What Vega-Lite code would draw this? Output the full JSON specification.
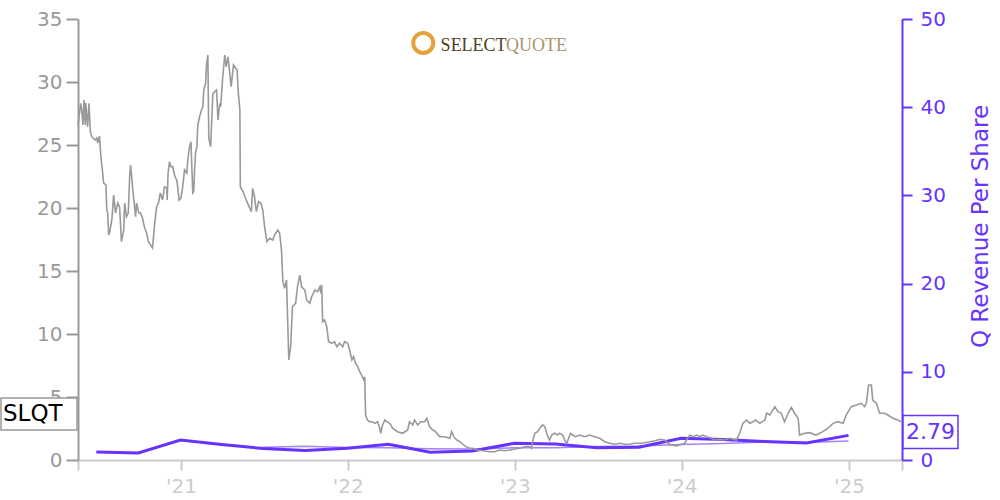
{
  "$schema": "https://vega.github.io/schema/vega-lite/v6.json",
  "width": 824,
  "height": 441,
  "autosize": {"type": "none"},
  "padding": {"left": 78, "top": 19, "right": 98, "bottom": 40},
  "background": "white",
  "config": {"view": {"stroke": null}, "font": "DejaVu Sans"},
  "datasets": {
    "stock": [
      {"date":"2020-05-21","price":26.59},{"date":"2020-05-27","price":28.31},{"date":"2020-05-29","price":27.78},{"date":"2020-06-01","price":26.59},{"date":"2020-06-03","price":28.57},{"date":"2020-06-06","price":26.59},{"date":"2020-06-07","price":28.33},{"date":"2020-06-11","price":26.43},{"date":"2020-06-14","price":28.31},{"date":"2020-06-17","price":26.06},{"date":"2020-06-20","price":25.66},{"date":"2020-06-27","price":25.40},{"date":"2020-07-01","price":25.56},{"date":"2020-07-03","price":25.16},{"date":"2020-07-07","price":25.71},{"date":"2020-07-10","price":24.07},{"date":"2020-07-14","price":22.78},{"date":"2020-07-16","price":21.98},{"date":"2020-07-21","price":21.83},{"date":"2020-07-23","price":19.84},{"date":"2020-07-25","price":19.60},{"date":"2020-07-27","price":17.86},{"date":"2020-07-29","price":18.02},{"date":"2020-08-03","price":19.05},{"date":"2020-08-07","price":21.03},{"date":"2020-08-11","price":19.60},{"date":"2020-08-16","price":20.40},{"date":"2020-08-20","price":20.08},{"date":"2020-08-24","price":17.33},{"date":"2020-08-29","price":18.25},{"date":"2020-08-31","price":20.40},{"date":"2020-09-04","price":19.31},{"date":"2020-09-08","price":19.60},{"date":"2020-09-11","price":22.48},{"date":"2020-09-13","price":23.41},{"date":"2020-09-15","price":22.62},{"date":"2020-09-19","price":21.03},{"date":"2020-09-24","price":19.31},{"date":"2020-09-26","price":20.40},{"date":"2020-10-01","price":19.60},{"date":"2020-10-05","price":19.60},{"date":"2020-10-09","price":19.21},{"date":"2020-10-13","price":18.52},{"date":"2020-10-18","price":18.02},{"date":"2020-10-22","price":17.33},{"date":"2020-10-31","price":16.83},{"date":"2020-11-04","price":18.52},{"date":"2020-11-09","price":20.10},{"date":"2020-11-13","price":20.40},{"date":"2020-11-17","price":21.19},{"date":"2020-11-22","price":20.63},{"date":"2020-11-26","price":21.69},{"date":"2020-12-01","price":21.59},{"date":"2020-12-02","price":20.63},{"date":"2020-12-04","price":22.78},{"date":"2020-12-07","price":23.67},{"date":"2020-12-10","price":23.28},{"date":"2020-12-14","price":23.28},{"date":"2020-12-19","price":22.48},{"date":"2020-12-23","price":22.22},{"date":"2020-12-25","price":21.69},{"date":"2020-12-28","price":20.63},
      {"date":"2021-01-01","price":20.79},{"date":"2021-01-05","price":21.69},{"date":"2021-01-09","price":23.02},{"date":"2021-01-14","price":22.78},{"date":"2021-01-16","price":23.81},{"date":"2021-01-20","price":24.87},{"date":"2021-01-23","price":25.26},{"date":"2021-01-27","price":21.19},{"date":"2021-01-29","price":21.29},{"date":"2021-01-31","price":23.02},{"date":"2021-02-02","price":24.37},{"date":"2021-02-05","price":24.87},{"date":"2021-02-07","price":26.59},{"date":"2021-02-11","price":27.25},{"date":"2021-02-15","price":27.78},{"date":"2021-02-18","price":28.04},{"date":"2021-02-20","price":29.37},{"date":"2021-02-24","price":29.90},{"date":"2021-02-26","price":31.35},{"date":"2021-03-01","price":32.14},{"date":"2021-03-03","price":25.56},{"date":"2021-03-07","price":24.87},{"date":"2021-03-12","price":29.10},{"date":"2021-03-20","price":29.37},{"date":"2021-03-23","price":26.98},{"date":"2021-03-27","price":28.31},{"date":"2021-03-29","price":28.04},{"date":"2021-04-02","price":30.16},{"date":"2021-04-07","price":32.14},{"date":"2021-04-10","price":31.21},{"date":"2021-04-14","price":31.99},{"date":"2021-04-18","price":30.69},{"date":"2021-04-21","price":29.63},{"date":"2021-04-26","price":31.35},{"date":"2021-05-04","price":30.95},{"date":"2021-05-06","price":29.37},{"date":"2021-05-10","price":27.78},{"date":"2021-05-11","price":21.69},{"date":"2021-05-17","price":21.29},{"date":"2021-05-24","price":20.63},{"date":"2021-05-27","price":20.37},{"date":"2021-06-04","price":19.71},{"date":"2021-06-07","price":21.56},{"date":"2021-06-11","price":20.90},{"date":"2021-06-15","price":19.71},{"date":"2021-06-20","price":20.50},{"date":"2021-06-25","price":20.37},{"date":"2021-06-29","price":19.84},{"date":"2021-07-03","price":18.52},{"date":"2021-07-08","price":17.33},{"date":"2021-07-14","price":17.60},{"date":"2021-07-21","price":17.46},{"date":"2021-07-25","price":17.86},{"date":"2021-08-01","price":18.25},{"date":"2021-08-05","price":17.99},{"date":"2021-08-09","price":16.67},{"date":"2021-08-12","price":14.15},{"date":"2021-08-16","price":13.63},{"date":"2021-08-20","price":14.29},{"date":"2021-08-25","price":7.94},{"date":"2021-08-29","price":8.99},{"date":"2021-09-02","price":12.17},{"date":"2021-09-09","price":12.44},{"date":"2021-09-13","price":13.75},{"date":"2021-09-18","price":14.68},{"date":"2021-09-22","price":13.75},{"date":"2021-09-29","price":13.49},{"date":"2021-10-03","price":12.70},{"date":"2021-10-10","price":12.44},{"date":"2021-10-14","price":12.96},{"date":"2021-10-21","price":13.49},{"date":"2021-10-27","price":13.36},{"date":"2021-11-01","price":13.75},{"date":"2021-11-03","price":13.23},{"date":"2021-11-05","price":13.89},{"date":"2021-11-07","price":10.98},{"date":"2021-11-11","price":11.11},{"date":"2021-11-16","price":10.58},{"date":"2021-11-20","price":9.39},{"date":"2021-11-27","price":9.26},{"date":"2021-12-03","price":9.39},{"date":"2021-12-08","price":8.99},{"date":"2021-12-14","price":9.26},{"date":"2021-12-21","price":8.99},{"date":"2021-12-25","price":9.39},
      {"date":"2022-01-01","price":9.26},{"date":"2022-01-05","price":8.73},{"date":"2022-01-10","price":7.94},{"date":"2022-01-14","price":8.20},{"date":"2022-01-18","price":7.67},{"date":"2022-01-23","price":7.40},{"date":"2022-01-27","price":7.01},{"date":"2022-01-31","price":6.75},{"date":"2022-02-05","price":6.35},{"date":"2022-02-07","price":6.61},{"date":"2022-02-09","price":3.57},{"date":"2022-02-13","price":3.17},{"date":"2022-02-17","price":3.04},{"date":"2022-02-24","price":3.04},{"date":"2022-03-01","price":2.91},{"date":"2022-03-07","price":3.04},{"date":"2022-03-12","price":2.52},{"date":"2022-03-14","price":2.12},{"date":"2022-03-18","price":2.78},{"date":"2022-03-23","price":3.17},{"date":"2022-03-27","price":3.04},{"date":"2022-04-03","price":2.91},{"date":"2022-04-09","price":2.52},{"date":"2022-04-20","price":2.25},{"date":"2022-05-01","price":2.12},{"date":"2022-05-12","price":2.38},{"date":"2022-05-16","price":3.04},{"date":"2022-05-23","price":2.78},{"date":"2022-05-27","price":3.17},{"date":"2022-06-03","price":2.78},{"date":"2022-06-09","price":3.04},{"date":"2022-06-18","price":3.04},{"date":"2022-06-23","price":3.31},{"date":"2022-06-29","price":2.64},{"date":"2022-07-06","price":2.38},{"date":"2022-07-12","price":2.25},{"date":"2022-07-21","price":1.85},{"date":"2022-08-01","price":1.85},{"date":"2022-08-12","price":1.72},{"date":"2022-08-16","price":2.25},{"date":"2022-08-21","price":1.85},{"date":"2022-08-27","price":1.59},{"date":"2022-09-03","price":1.45},{"date":"2022-09-07","price":1.33},{"date":"2022-09-16","price":1.06},{"date":"2022-09-25","price":0.93},{"date":"2022-10-01","price":0.93},{"date":"2022-10-12","price":0.79},{"date":"2022-10-23","price":0.74},{"date":"2022-11-07","price":0.66},{"date":"2022-11-18","price":0.66},{"date":"2022-11-29","price":0.79},{"date":"2022-12-10","price":0.74},{"date":"2022-12-21","price":0.79},
      {"date":"2023-01-01","price":0.87},{"date":"2023-01-12","price":0.93},{"date":"2023-01-25","price":1.06},{"date":"2023-02-03","price":1.06},{"date":"2023-02-07","price":0.93},{"date":"2023-02-09","price":1.45},{"date":"2023-02-14","price":2.12},{"date":"2023-02-20","price":2.25},{"date":"2023-02-25","price":2.52},{"date":"2023-03-03","price":2.78},{"date":"2023-03-08","price":2.64},{"date":"2023-03-12","price":2.12},{"date":"2023-03-18","price":1.59},{"date":"2023-03-23","price":1.98},{"date":"2023-03-29","price":2.12},{"date":"2023-04-05","price":1.98},{"date":"2023-04-09","price":2.12},{"date":"2023-04-16","price":1.98},{"date":"2023-04-20","price":1.59},{"date":"2023-04-25","price":1.33},{"date":"2023-04-29","price":1.72},{"date":"2023-05-03","price":2.12},{"date":"2023-05-08","price":1.98},{"date":"2023-05-14","price":1.85},{"date":"2023-05-23","price":1.98},{"date":"2023-06-03","price":1.85},{"date":"2023-06-14","price":1.98},{"date":"2023-06-25","price":1.85},{"date":"2023-07-06","price":1.72},{"date":"2023-07-17","price":1.45},{"date":"2023-07-28","price":1.33},{"date":"2023-08-08","price":1.25},{"date":"2023-08-19","price":1.33},{"date":"2023-08-30","price":1.25},{"date":"2023-09-10","price":1.27},{"date":"2023-09-21","price":1.33},{"date":"2023-10-02","price":1.33},{"date":"2023-10-13","price":1.37},{"date":"2023-10-24","price":1.45},{"date":"2023-11-04","price":1.53},{"date":"2023-11-14","price":1.64},{"date":"2023-11-25","price":1.59},{"date":"2023-12-02","price":1.33},{"date":"2023-12-10","price":1.19},{"date":"2023-12-21","price":1.11},
      {"date":"2024-01-01","price":1.25},{"date":"2024-01-08","price":1.33},{"date":"2024-01-14","price":1.72},{"date":"2024-01-19","price":1.98},{"date":"2024-01-25","price":1.85},{"date":"2024-02-03","price":1.98},{"date":"2024-02-10","price":1.85},{"date":"2024-02-16","price":1.98},{"date":"2024-02-25","price":1.85},{"date":"2024-03-07","price":1.72},{"date":"2024-03-13","price":1.59},{"date":"2024-03-24","price":1.64},{"date":"2024-04-04","price":1.59},{"date":"2024-04-15","price":1.72},{"date":"2024-04-30","price":1.59},{"date":"2024-05-07","price":2.12},{"date":"2024-05-14","price":2.91},{"date":"2024-05-22","price":3.17},{"date":"2024-05-29","price":2.91},{"date":"2024-06-05","price":3.04},{"date":"2024-06-11","price":3.17},{"date":"2024-06-20","price":2.91},{"date":"2024-07-01","price":3.17},{"date":"2024-07-05","price":3.71},{"date":"2024-07-12","price":3.57},{"date":"2024-07-23","price":4.23},{"date":"2024-07-30","price":3.83},{"date":"2024-08-06","price":3.71},{"date":"2024-08-13","price":3.04},{"date":"2024-08-21","price":3.71},{"date":"2024-08-28","price":4.18},{"date":"2024-09-04","price":3.71},{"date":"2024-09-12","price":3.31},{"date":"2024-09-15","price":1.98},{"date":"2024-09-26","price":2.12},{"date":"2024-10-07","price":2.17},{"date":"2024-10-21","price":1.98},{"date":"2024-11-05","price":2.25},{"date":"2024-11-16","price":2.52},{"date":"2024-11-27","price":2.91},{"date":"2024-12-08","price":3.04},{"date":"2024-12-19","price":2.91},{"date":"2024-12-26","price":3.57},
      {"date":"2025-01-06","price":4.23},{"date":"2025-01-17","price":4.37},{"date":"2025-01-28","price":4.50},{"date":"2025-02-04","price":4.23},{"date":"2025-02-08","price":4.50},{"date":"2025-02-13","price":5.95},{"date":"2025-02-19","price":5.95},{"date":"2025-02-22","price":4.76},{"date":"2025-03-02","price":4.50},{"date":"2025-03-09","price":3.71},{"date":"2025-03-20","price":3.71},{"date":"2025-03-27","price":3.57},{"date":"2025-04-07","price":3.31},{"date":"2025-04-18","price":3.17},{"date":"2025-04-25","price":3.04}
    ],
    "revenue": [
      {"date":"2020-06-30","rps":0.91},{"date":"2020-09-30","rps":0.79},{"date":"2020-12-31","rps":2.27},{"date":"2021-03-31","rps":1.76},{"date":"2021-06-30","rps":1.30},{"date":"2021-09-30","rps":1.08},{"date":"2021-12-31","rps":1.32},{"date":"2022-03-31","rps":1.78},{"date":"2022-06-30","rps":0.88},{"date":"2022-09-30","rps":1.02},{"date":"2022-12-31","rps":1.89},{"date":"2023-03-31","rps":1.81},{"date":"2023-06-30","rps":1.40},{"date":"2023-09-30","rps":1.44},{"date":"2023-12-31","rps":2.46},{"date":"2024-03-31","rps":2.32},{"date":"2024-06-30","rps":2.10},{"date":"2024-09-30","rps":1.93},{"date":"2024-12-31","rps":2.79}
    ],
    "average": [
      {"date":"2021-06-30","avg":1.44},{"date":"2021-09-30","avg":1.55},{"date":"2021-12-31","avg":1.42},{"date":"2022-03-31","avg":1.38},{"date":"2022-06-30","avg":1.27},{"date":"2022-09-30","avg":1.25},{"date":"2022-12-31","avg":1.38},{"date":"2023-03-31","avg":1.40},{"date":"2023-06-30","avg":1.52},{"date":"2023-09-30","avg":1.60},{"date":"2023-12-31","avg":1.75},{"date":"2024-03-31","avg":1.88},{"date":"2024-06-30","avg":2.03},{"date":"2024-09-30","avg":1.98},{"date":"2024-12-31","avg":2.15}
    ],
    "tickerLabel": [{"date":"2020-05-21","price":3.65,"label":"SLQT"}],
    "lastLabel": [{"date":"2025-04-27","rps":2.79,"label":"2.79"}],
    "logoRing": [{"date":"2022-06-15","price":33.1}],
    "logoText": [
      {"date":"2022-07-23","price":32.46,"label":"SELECT","part":"a"},
      {"date":"2022-12-13","price":32.46,"label":"QUOTE","part":"b"}
    ]
  },
  "encoding": {
    "x": {
      "field": "date",
      "type": "temporal",
      "scale": {"domain": [{"year": 2020, "month": 5, "date": 21}, {"year": 2025, "month": 4, "date": 27}]},
      "axis": {
        "values": [
          {"year": 2020, "month": 5, "date": 21},
          {"year": 2021, "month": 1, "date": 1},
          {"year": 2022, "month": 1, "date": 1},
          {"year": 2023, "month": 1, "date": 1},
          {"year": 2024, "month": 1, "date": 1},
          {"year": 2025, "month": 1, "date": 1},
          {"year": 2025, "month": 4, "date": 27}
        ],
        "labelExpr": "(month(datum.value) == 0 && date(datum.value) == 1) ? \"'\" + timeFormat(datum.value, '%y') : ''",
        "title": null,
        "grid": false,
        "domainColor": "#cccccc",
        "domainWidth": 2,
        "tickColor": "#cccccc",
        "tickWidth": 2,
        "tickSize": 10,
        "labelColor": "#cccccc",
        "labelFontSize": 20,
        "labelPadding": 6,
        "labelFlush": false,
        "labelOverlap": false
      }
    }
  },
  "layer": [
    {
      "data": {"name": "revenue"},
      "mark": {"type": "line", "color": "#6633ff", "strokeWidth": 3},
      "encoding": {
        "y": {
          "field": "rps", "type": "quantitative",
          "scale": {"domain": [0, 50], "nice": false},
          "axis": {
            "orient": "right",
            "values": [0, 10, 20, 30, 40, 50],
            "title": "Q Revenue Per Share",
            "titleColor": "#6633ff",
            "titleFontSize": 23,
            "titleFontWeight": "normal",
            "titleAngle": -90,
            "titlePadding": 47,
            "titleY": 207,
            "grid": false,
            "domainColor": "#6633ff",
            "domainWidth": 2,
            "tickColor": "#6633ff",
            "tickWidth": 2,
            "tickSize": 10,
            "labelColor": "#6633ff",
            "labelFontSize": 20,
            "labelPadding": 8
          }
        }
      }
    },
    {
      "data": {"name": "average"},
      "mark": {"type": "line", "color": "#6633ff", "strokeWidth": 1.5, "opacity": 0.6},
      "encoding": {
        "y": {"field": "avg", "type": "quantitative", "scale": {"domain": [0, 50], "nice": false}, "axis": null}
      }
    },
    {
      "data": {"name": "stock"},
      "mark": {"type": "line", "color": "#999999", "strokeWidth": 1.6},
      "encoding": {
        "y": {
          "field": "price", "type": "quantitative",
          "scale": {"domain": [0, 35], "nice": false},
          "axis": {
            "orient": "left",
            "values": [0, 5, 10, 15, 20, 25, 30, 35],
            "title": null,
            "grid": false,
            "domainColor": "#999999",
            "domainWidth": 2,
            "tickColor": "#999999",
            "tickWidth": 2,
            "tickSize": 12,
            "labelColor": "#999999",
            "labelFontSize": 20,
            "labelPadding": 4
          }
        }
      }
    },
    {
      "data": {"name": "tickerLabel"},
      "mark": {"type": "rect", "fill": "white", "stroke": "#999999", "strokeWidth": 1.5, "xOffset": -77, "x2Offset": -1, "yOffset": -16, "y2Offset": 16},
      "encoding": {
        "x2": {"field": "date"},
        "y": {"field": "price", "type": "quantitative", "scale": {"domain": [0, 35], "nice": false}, "axis": null},
        "y2": {"field": "price"}
      }
    },
    {
      "data": {"name": "tickerLabel"},
      "mark": {"type": "text", "color": "black", "fontSize": 23, "align": "left", "baseline": "middle", "dx": -75},
      "encoding": {
        "y": {"field": "price", "type": "quantitative", "scale": {"domain": [0, 35], "nice": false}, "axis": null},
        "text": {"field": "label"}
      }
    },
    {
      "data": {"name": "lastLabel"},
      "mark": {"type": "rect", "fill": "white", "stroke": "#6633ff", "strokeWidth": 1.5, "xOffset": 1, "x2Offset": 56, "yOffset": -20, "y2Offset": 13},
      "encoding": {
        "x2": {"field": "date"},
        "y": {"field": "rps", "type": "quantitative", "scale": {"domain": [0, 50], "nice": false}, "axis": null},
        "y2": {"field": "rps"}
      }
    },
    {
      "data": {"name": "lastLabel"},
      "mark": {"type": "text", "color": "#6633ff", "fontSize": 22, "align": "left", "baseline": "middle", "dx": 4, "dy": -3},
      "encoding": {
        "y": {"field": "rps", "type": "quantitative", "scale": {"domain": [0, 50], "nice": false}, "axis": null},
        "text": {"field": "label"}
      }
    },
    {
      "data": {"name": "logoRing"},
      "mark": {"type": "point", "shape": "circle", "filled": false, "stroke": "#e3a23c", "strokeWidth": 4, "size": 400, "opacity": 1},
      "encoding": {
        "y": {"field": "price", "type": "quantitative", "scale": {"domain": [0, 35], "nice": false}, "axis": null}
      }
    },
    {
      "data": {"name": "logoText"},
      "mark": {"type": "text", "font": "Liberation Serif", "fontSize": 18, "align": "left", "baseline": "alphabetic"},
      "encoding": {
        "y": {"field": "price", "type": "quantitative", "scale": {"domain": [0, 35], "nice": false}, "axis": null},
        "text": {"field": "label"},
        "color": {"field": "part", "type": "nominal", "scale": {"domain": ["a", "b"], "range": ["#4f4024", "#a8946a"]}, "legend": null}
      }
    }
  ],
  "resolve": {"scale": {"y": "independent"}, "axis": {"y": "independent"}}
}
